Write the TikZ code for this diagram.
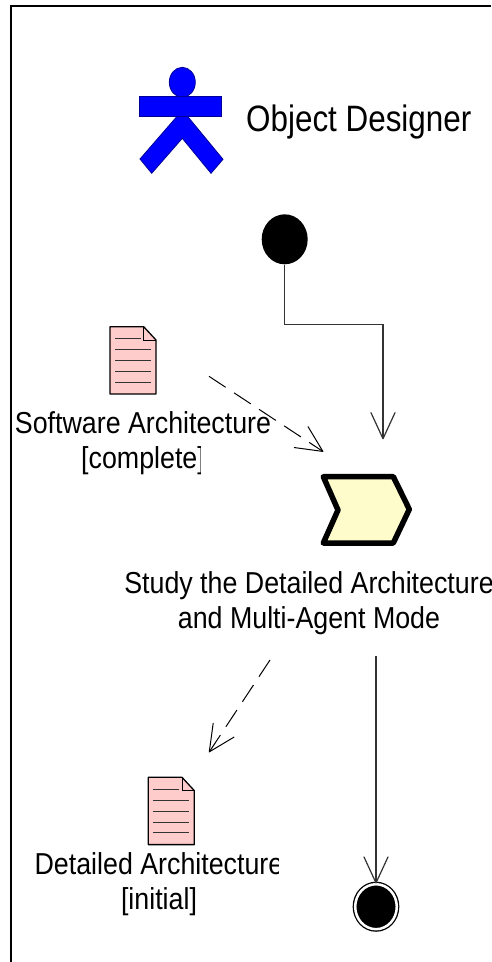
\documentclass[tikz,border=0pt]{standalone}
\usepackage{fontspec}
\setmainfont{Liberation Sans}
\usetikzlibrary{arrows.meta,shapes.geometric}

\begin{document}
\begin{tikzpicture}[x=1pt,y=-1pt]
\tikzset{
mylabel/.style={inner sep=0pt, yscale=1.13, font=\fontsize{26.8}{30.8}\selectfont, align=center},
rolelabel/.style={inner sep=0pt, yscale=1.17, font=\fontsize{31.4}{36}\selectfont, anchor=base west},
myarrow/.style={-{Straight Barb[length=26pt,width=24pt,round]}, black!80, line width=1.2pt},
dashedarrow/.style={-{Straight Barb[length=26pt,width=25pt,round]}, black, line width=1pt, dash pattern=on 20pt off 10pt},
startnode/.style={ellipse,fill=black,minimum width=46pt,minimum height=50pt,inner sep=0pt},
endnode/.style={ellipse,fill=black,draw=black,line width=1.3pt,double=white,double distance=2.5pt,minimum width=41.6pt,minimum height=45pt,inner sep=0pt},
actor/.style={fill=blue,draw=blue!60!black,line width=0.8pt},
taskbox/.style={fill=yellow!20,draw=black,line width=5.5pt,line join=round},
docicon/.pic={
\draw[fill=red!20,draw=black,line width=1.3pt,line join=round] (0,0) -- (33.7,0) -- (46,13.3) -- (46,67.3) -- (0,67.3) -- cycle;
\draw[line width=1pt] (33.7,0) -- (33.7,13.3) -- (46,13.3);
\draw[line width=0.8pt,black!80] (5,11.6) -- (31,11.6);
\foreach \y in {22.6,33.6,44.6,55.3} \draw[line width=0.8pt,black!80] (5,\y) -- (41,\y);
},
}
\useasboundingbox (0,0) rectangle (491,962);
\draw[line width=2pt] (11,962) -- (11,6) -- (491,6);

% role
\fill[actor] (182.3,82.3) circle [x radius=13,y radius=15];
\draw[actor] (177.3,116) -- (140,159) -- (151.7,173.3) -- (182.3,138.3) -- (211,173.3) -- (223,159.3) -- (187.3,116) -- cycle;
\draw[actor] (139.7,96.7) rectangle (221.7,116.7);
\node [rolelabel] (role) at (246,131) {Object Designer};

% activity
\node [startnode] (start) at (284.7,239.3) {};
\draw[taskbox] (323.3,476.7) -- (393.3,476.7) -- (409.3,509.3) -- (393.3,543) -- (323.3,543) -- (338,510) -- cycle;
\node [mylabel] (task) at (309,603) {Study the Detailed Architecture\\and Multi-Agent Mode};

% products
\pic at (110,326.7) {docicon};
\pic at (148.3,777.3) {docicon};
\begin{scope}
\clip (0,400) -- (269.5,400) -- (269.5,444) -- (200,444) -- (200,490) -- (0,490) -- cycle;
\node [mylabel] (software) at (143,443) {Software Architecture\\{[complete]}};
\end{scope}
\begin{scope}
\clip (0,840) -- (278,840) -- (278,930) -- (0,930) -- cycle;
\node [mylabel] (detailed) at (159,884.5) {Detailed Architecture\\{[initial]}};
\end{scope}
\node [endnode] (finish) at (376,906.7) {};

\coordinate (taskin) at (383,439.3);
\coordinate (taskout) at (376,656);
\coordinate (softout) at (209,376.3);
\coordinate (taskinb) at (323.3,451.7);
\coordinate (taskoutb) at (270,660);
\coordinate (detailin) at (209,752.3);

\draw[myarrow] (start.south) -- ++(0,60) -| (taskin);
\draw[myarrow] (taskout) -- (finish.north);
\draw[dashedarrow] (softout) -- (taskinb);
\draw[dashedarrow] (taskoutb) -- (detailin);
\end{tikzpicture}
\end{document}
